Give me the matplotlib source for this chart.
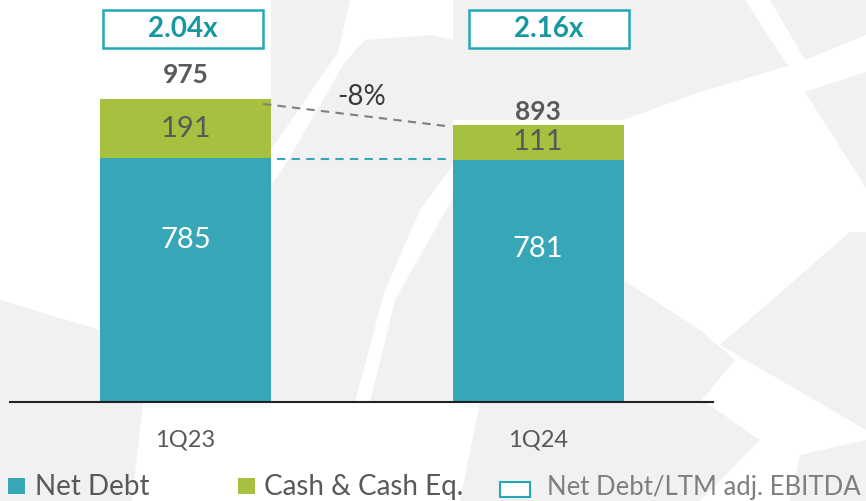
import matplotlib.pyplot as plt
from matplotlib.patches import Rectangle, Polygon

# Data
periods = ['1Q23', '1Q24']
net_debt = [785, 781]
cash = [191, 111]
totals = [975, 893]
leverage = ['2.04x', '2.16x']
change_label = '-8%'

teal = '#37A6B7'
green = '#A6C140'
box_teal = '#22A8B8'
text_gray = '#595959'
bg_gray = '#f1f1f1'

W, H = 866, 501

plt.rcParams['font.family'] = ['Lato', 'DejaVu Sans']

fig = plt.figure(figsize=(8.66, 5.01), dpi=100)
ax = fig.add_axes([0, 0, 1, 1])
ax.set_xlim(-0.526, 1.930)
ax.set_ylim(-318.8, 1294.7)
ax.axis('off')

# faint decorative background shapes (pixel coords from top-left)
bg_shapes = [
    [(0, 300), (100, 330), (100, 402), (143, 402), (132, 501), (0, 501)],
    [(271, 0), (350, 0), (338, 52), (271, 150)],
    [(281, 172), (345, 62), (365, 40), (433, 35), (453, 40), (453, 165),
     (420, 210), (385, 290), (355, 402), (271, 402), (271, 185)],
    [(370, 402), (395, 300), (453, 198), (453, 402)],
    [(453, 0), (745, 0), (788, 66), (700, 92), (623, 120), (453, 120)],
    [(805, 92), (866, 72), (866, 188)],
    [(770, 0), (866, 0), (866, 35), (805, 60)],
    [(720, 345), (850, 232), (866, 232), (866, 430)],
    [(623, 280), (700, 330), (735, 360), (700, 402), (623, 402)],
    [(480, 402), (705, 402), (760, 440), (700, 501), (460, 501)],
    [(800, 455), (866, 440), (866, 501), (790, 501)],
]
for shp in bg_shapes:
    pts = [(px / W, 1 - py / H) for px, py in shp]
    ax.add_patch(Polygon(pts, closed=True, transform=fig.transFigure,
                         facecolor=bg_gray, edgecolor='none', zorder=0))

x = list(range(len(periods)))
w = 0.485
ax.bar(x, net_debt, width=w, color=teal, zorder=2)
ax.bar(x, cash, width=w, bottom=net_debt, color=green, zorder=2)

# baseline
ax.axhline(0, xmin=0.0115, xmax=0.823, color='#222222', lw=1.5, zorder=3)

total_offsets = [78, 40]
net_offsets = [-263, -288]
box_offsets = [-0.234, -0.196]
for i in x:
    ax.text(i, net_debt[i] + net_offsets[i], str(net_debt[i]), ha='center', va='center',
            color='white', fontsize=21, zorder=4)
    ax.text(i, net_debt[i] + cash[i] / 2, str(cash[i]), ha='center', va='center',
            color=text_gray, fontsize=21, zorder=4)
    ax.text(i, totals[i] + total_offsets[i], str(totals[i]), ha='center', va='center',
            color=text_gray, fontsize=19, fontweight='bold', zorder=4)
    ax.add_patch(Rectangle((i + box_offsets[i], 1140), 0.454, 122, facecolor='white',
                           edgecolor=box_teal, lw=1.8, zorder=3))
    ax.text(i + box_offsets[i] + 0.227, 1201, leverage[i], ha='center', va='center',
            color='#17979F', fontsize=20, fontweight='bold', zorder=4)
    ax.text(i, -122, periods[i], ha='center', va='center', color=text_gray, fontsize=17)

# dashed connectors
ax.plot([0 + 0.22, 1 - 0.255], [totals[0] - 15, totals[1] - 5], ls=(0, (4, 3)),
        color='#7f7f7f', lw=1.5, zorder=3)
ax.plot([0 + 0.26, 1 - 0.255], [net_debt[0] - 2, net_debt[0] - 2], ls=(0, (4, 3)),
        color=teal, lw=1.5, zorder=3)
ax.text(0.5, 982, change_label, ha='center', va='center', color='#3a3a3a', fontsize=20)

# legend
leg_y = 1 - 487 / H
ax.add_patch(Rectangle((8 / W, 1 - 494 / H), 17 / W, 16 / H, facecolor=teal,
                       edgecolor='none', transform=fig.transFigure, zorder=3))
ax.add_patch(Rectangle((238 / W, 1 - 494 / H), 17 / W, 16 / H, facecolor=green,
                       edgecolor='none', transform=fig.transFigure, zorder=3))
ax.add_patch(Rectangle((500 / W, 1 - 497 / H), 30 / W, 15 / H, facecolor='white',
                       edgecolor=box_teal, lw=1.5, transform=fig.transFigure, zorder=3))
fig.text(35 / W, leg_y, 'Net Debt', color=text_gray, fontsize=20, va='center', ha='left')
fig.text(264 / W, leg_y, 'Cash & Cash Eq.', color=text_gray, fontsize=20, va='center',
         ha='left')
fig.text(547 / W, leg_y, 'Net Debt/LTM adj. EBITDA', color='#7f7f7f', fontsize=18.5,
         va='center', ha='left')

fig.savefig('out.png', dpi=100)
